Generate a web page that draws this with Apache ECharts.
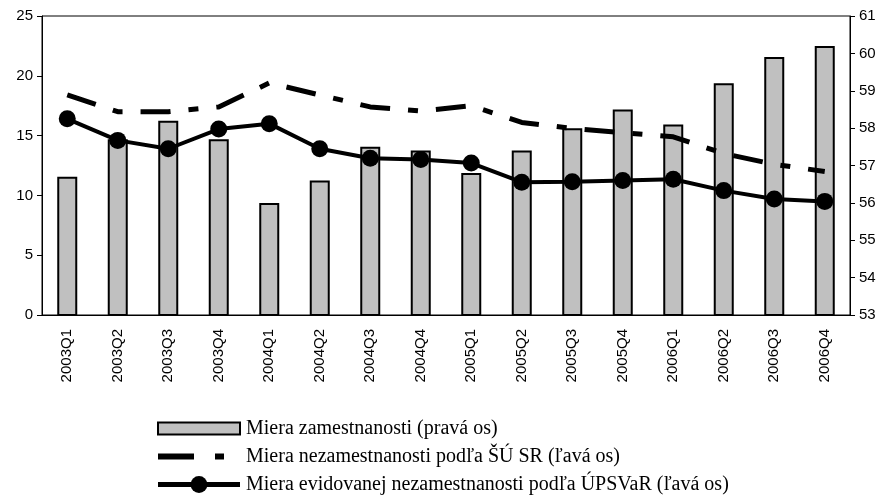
<!DOCTYPE html>
<html>
<head>
<meta charset="utf-8">
<script src="https://cdn.jsdelivr.net/npm/echarts@6/dist/echarts.min.js"></script>
<style>
html, body { margin: 0; padding: 0; background: #fff; }
#chart { width: 883px; height: 497px; }
</style>
</head>
<body>
<div id="chart"></div>
<script>
// kvartály
var categories = ["2003Q1", "2003Q2", "2003Q3", "2003Q4", "2004Q1", "2004Q2", "2004Q3", "2004Q4",
  "2005Q1", "2005Q2", "2005Q3", "2005Q4", "2006Q1", "2006Q2", "2006Q3", "2006Q4"];
// miera zamestnanosti (pravá os)
var zamestnanost = [56.7, 57.7, 58.2, 57.7, 56.0, 56.6, 57.5, 57.4,
  56.8, 57.4, 58.0, 58.5, 58.1, 59.2, 59.9, 60.2];
// miera nezamestnanosti podľa ŠÚ SR (ľavá os)
var nezamSU = [18.4, 17.0, 17.0, 17.4, 19.4, 18.4, 17.4, 17.05,
  17.5, 16.1, 15.6, 15.25, 14.9, 13.5, 12.6, 12.0];
// miera evidovanej nezamestnanosti podľa ÚPSVaR (ľavá os)
var nezamUPSVAR = [16.4, 14.6, 13.9, 15.55, 16.0, 13.9, 13.1, 13.0,
  12.7, 11.1, 11.15, 11.25, 11.35, 10.4, 9.7, 9.5];

var names = [
  "Miera zamestnanosti (pravá os)",
  "Miera nezamestnanosti podľa ŠÚ SR (ľavá os)",
  "Miera evidovanej nezamestnanosti podľa ÚPSVaR (ľavá os)"
];

var axisFont = { fontFamily: "Liberation Sans", fontSize: 15, color: "#000" };

var myChart = echarts.init(document.getElementById("chart"));
var option = {
  animation: false,
  backgroundColor: "#fff",
  grid: {
    left: 42, right: 33, top: 16, bottom: 182,
    show: true, borderColor: "#000", borderWidth: 1
  },
  legend: {
    orient: "vertical",
    left: 155, top: 418, height: 120, padding: 0,
    itemWidth: 82, itemHeight: 21, itemGap: 7,
    symbolKeepAspect: true,
    textStyle: { fontFamily: "Liberation Serif", fontSize: 20, lineHeight: 21, color: "#000", padding: [0, 0, 0, 1] },
    lineStyle: { width: 5 },
    data: [
      { name: names[0], icon: "path://M0,0H82V12H0Z", itemStyle: { borderWidth: 2, borderColor: "#000" } },
      { name: names[1], itemStyle: { opacity: 0 }, lineStyle: { width: 6, type: [36, 21, 9, 40] } },
      { name: names[2] }
    ]
  },
  xAxis: {
    type: "category",
    data: categories,
    boundaryGap: true,
    axisLine: { lineStyle: { color: "#000", width: 1 } },
    axisTick: { alignWithLabel: false, length: 5, lineStyle: { color: "#000" } },
    axisLabel: Object.assign({ rotate: 90, margin: 14, interval: 0 }, axisFont)
  },
  yAxis: [
    {
      type: "value", min: 0, max: 25, interval: 5,
      splitLine: { show: false },
      axisLine: { show: true, lineStyle: { color: "#000" } },
      axisTick: { show: true, length: 5, lineStyle: { color: "#000" } },
      axisLabel: Object.assign({ margin: 9 }, axisFont)
    },
    {
      type: "value", min: 53, max: 61, interval: 1,
      splitLine: { show: false },
      axisLine: { show: true, lineStyle: { color: "#000" } },
      axisTick: { show: true, length: 5, lineStyle: { color: "#000" } },
      axisLabel: Object.assign({ margin: 9 }, axisFont)
    }
  ],
  series: [
    {
      name: names[0],
      type: "bar",
      yAxisIndex: 1,
      barWidth: 20,
      itemStyle: { color: "#c0c0c0", borderColor: "#000", borderWidth: 2 },
      data: zamestnanost
    },
    {
      name: names[1],
      type: "line",
      yAxisIndex: 0,
      symbol: "none",
      itemStyle: { color: "#000" },
      lineStyle: { color: "#000", width: 5, type: [30, 18, 10, 18] },
      data: nezamSU
    },
    {
      name: names[2],
      type: "line",
      yAxisIndex: 0,
      symbol: "circle",
      symbolSize: 17,
      itemStyle: { color: "#000" },
      lineStyle: { color: "#000", width: 4 },
      data: nezamUPSVAR
    }
  ]
};
myChart.setOption(option, true);
</script>
</body>
</html>
